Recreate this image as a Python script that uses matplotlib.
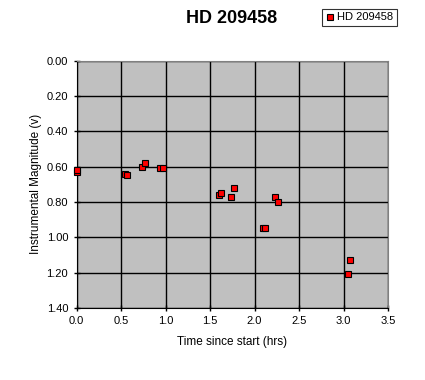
import matplotlib
matplotlib.use("Agg")
import matplotlib.pyplot as plt

plt.rcParams['font.family'] = ['Liberation Sans', 'DejaVu Sans']

time_hrs = [0.00, 0.01, 0.54, 0.57, 0.74, 0.77, 0.94, 0.97, 1.60, 1.62,
            1.74, 1.77, 2.10, 2.12, 2.23, 2.26, 3.05, 3.07]
magnitude = [0.63, 0.62, 0.64, 0.65, 0.60, 0.58, 0.61, 0.61, 0.76, 0.75,
             0.77, 0.72, 0.95, 0.95, 0.77, 0.80, 1.21, 1.13]
series_name = "HD 209458"
x_ticks = [0.0, 0.5, 1.0, 1.5, 2.0, 2.5, 3.0, 3.5]
y_ticks = [0.0, 0.2, 0.4, 0.6, 0.8, 1.0, 1.2, 1.4]

fig = plt.figure(figsize=(4.25, 3.8), dpi=100)
ax = fig.add_axes([0.18, 0.19, 0.733, 0.65])
ax.set_facecolor('#C0C0C0')
ax.plot(time_hrs, magnitude, linestyle='none', marker='s', markersize=5,
        markerfacecolor='#FF0000', markeredgecolor='black', markeredgewidth=0.8,
        label=series_name, zorder=3, clip_on=False)
ax.set_xlim(0, 3.5)
ax.set_ylim(1.4, 0.0)
ax.set_xticks(x_ticks)
ax.set_xticklabels([f"{v:.1f}" for v in x_ticks])
ax.set_yticks(y_ticks)
ax.set_yticklabels([f"{v:.2f}" for v in y_ticks])
ax.grid(True, color='black', linewidth=1)
ax.set_axisbelow(True)
for s in ['top', 'right']:
    ax.spines[s].set_color('#808080')
for s in ['left', 'bottom']:
    ax.spines[s].set_color('black')
ax.tick_params(direction='inout', length=5, labelsize=8, width=1)
ax.set_xlabel("Time since start (hrs)", fontsize=8.5, labelpad=7)
ax.set_ylabel("Instrumental Magnitude (v)", fontsize=8.5, labelpad=3)
fig.text(0.546, 0.952, "HD 209458", ha='center', va='center',
         fontsize=13, fontweight='bold')
leg = fig.legend(loc='upper right', bbox_to_anchor=(0.948, 0.992), fontsize=8,
                 frameon=True, fancybox=False, edgecolor='black',
                 handlelength=0.6, handletextpad=0.4, borderpad=0.35,
                 markerscale=0.9)
leg.get_frame().set_linewidth(0.8)
fig.savefig("out.png", dpi=100, facecolor='white')
